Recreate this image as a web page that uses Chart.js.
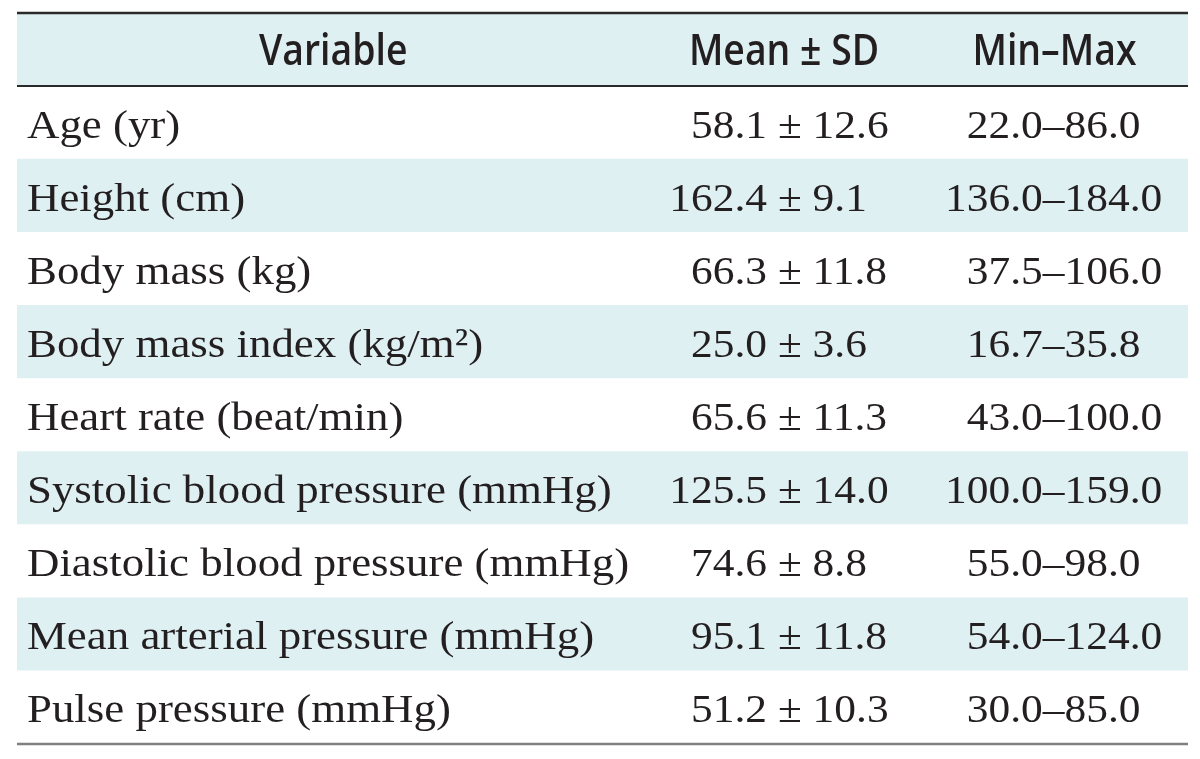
<!DOCTYPE html>
<html><head><meta charset="utf-8">
<script src="https://cdn.jsdelivr.net/npm/chart.js@4"></script>
<style>html,body{margin:0;padding:0;background:#fff}#wrap{width:1200px;height:759px}</style>
</head><body><div id="wrap"><canvas id="c" width="1200" height="759"></canvas></div>
<script>
const headers = ['Variable', 'Mean ± SD', 'Min–Max'];
const variables = ['Age (yr)', 'Height (cm)', 'Body mass (kg)', 'Body mass index (kg/m²)', 'Heart rate (beat/min)', 'Systolic blood pressure (mmHg)', 'Diastolic blood pressure (mmHg)', 'Mean arterial pressure (mmHg)', 'Pulse pressure (mmHg)'];
const means = [58.1, 162.4, 66.3, 25.0, 65.6, 125.5, 74.6, 95.1, 51.2];
const sds = [12.6, 9.1, 11.8, 3.6, 11.3, 14.0, 8.8, 11.8, 10.3];
const mins = [22.0, 136.0, 37.5, 16.7, 43.0, 100.0, 55.0, 54.0, 30.0];
const maxs = [86.0, 184.0, 106.0, 35.8, 100.0, 159.0, 98.0, 124.0, 85.0];

const rowKeys = ['header'].concat(variables);
const BLUE = '#dff0f3';
const INK = '#231f20';

function stretchText(ctx, text, x, y, align, sx) {
  ctx.save();
  ctx.translate(x, y);
  ctx.scale(sx, 1);
  ctx.textAlign = align;
  ctx.fillText(text, 0, 0);
  ctx.restore();
}

const tablePlugin = {
  id: 'tableText',
  afterDatasetsDraw(chart) {
    const ctx = chart.ctx;
    const xs = chart.scales.x, ys = chart.scales.y;
    const band = (ys.bottom - ys.top) / rowKeys.length;
    const left = xs.getPixelForValue(0), right = xs.getPixelForValue(100);
    ctx.save();
    ctx.lineCap = 'butt';
    ctx.strokeStyle = '#2a2a2a'; ctx.lineWidth = 2.5;
    ctx.beginPath(); ctx.moveTo(left, ys.top); ctx.lineTo(right, ys.top); ctx.stroke();
    ctx.lineWidth = 2;
    ctx.beginPath(); ctx.moveTo(left, ys.top + band); ctx.lineTo(right, ys.top + band); ctx.stroke();
    ctx.strokeStyle = '#808080'; ctx.lineWidth = 2.5;
    ctx.beginPath(); ctx.moveTo(left, ys.bottom); ctx.lineTo(right, ys.bottom); ctx.stroke();
    ctx.restore();

    ctx.save();
    ctx.fillStyle = INK;
    ctx.textBaseline = 'alphabetic';
    const hy = ys.getPixelForValue(0) + 15;
    ctx.font = '600 44px "Open Sans"';
    const hx = [27.0, 65.5, 88.6];
    headers.forEach((h, i) => stretchText(ctx, h, xs.getPixelForValue(hx[i]), hy, 'center', 0.85));
    variables.forEach((v, i) => {
      const y = ys.getPixelForValue(i + 1) + 15;
      ctx.font = '41px "Liberation Serif"';
      stretchText(ctx, v, xs.getPixelForValue(0.85), y, 'left', 1.095);
      const mx = xs.getPixelForValue(64.05);
      stretchText(ctx, means[i].toFixed(1), mx, y, 'right', 1.06);
      stretchText(ctx, ' ± ' + sds[i].toFixed(1), mx, y, 'left', 1.06);
      const nx = xs.getPixelForValue(87.6);
      stretchText(ctx, mins[i].toFixed(1), nx, y, 'right', 1.06);
      stretchText(ctx, '–' + maxs[i].toFixed(1), nx, y, 'left', 1.06);
    });
    ctx.restore();
  }
};

new Chart(document.getElementById('c'), {
  type: 'bar',
  data: {
    labels: rowKeys,
    datasets: [{
      data: rowKeys.map(() => [0, 100]),
      backgroundColor: rowKeys.map((k, i) => i % 2 === 0 ? BLUE : '#ffffff'),
      borderWidth: 0,
      barPercentage: 1,
      categoryPercentage: 1
    }]
  },
  options: {
    responsive: false,
    animation: false,
    indexAxis: 'y',
    layout: { padding: { left: 17, right: 12, top: 13, bottom: 15 } },
    plugins: { legend: { display: false }, tooltip: { enabled: false } },
    scales: {
      x: { type: 'linear', min: 0, max: 100, display: false },
      y: { type: 'category', labels: rowKeys, display: false, offset: true }
    }
  },
  plugins: [tablePlugin]
});
</script></body></html>
